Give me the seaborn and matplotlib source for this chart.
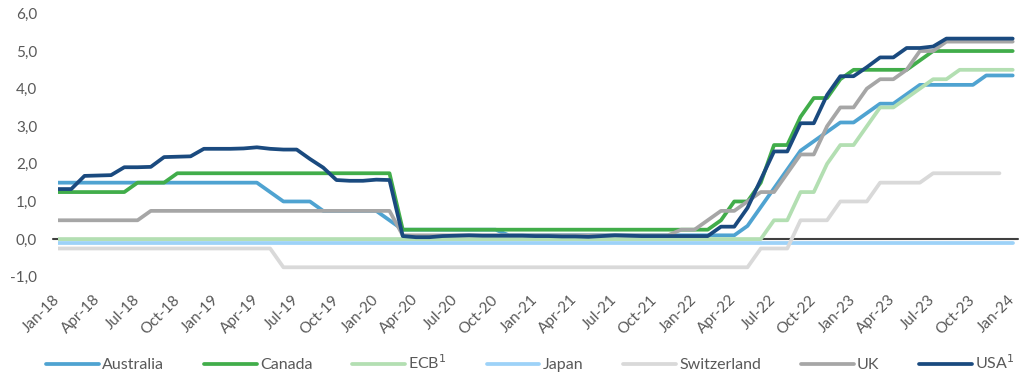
import pandas as pd
import seaborn as sns
import matplotlib.pyplot as plt

# monthly policy rates, Jan-18 .. Jan-24
australia = [1.5] * 16 + [1.25] + [1.0] * 3 + [0.75] * 5 + [0.5] + [0.25] * 8 + [0.1] * 18 + \
    [0.35, 0.85, 1.35, 1.85, 2.35, 2.6, 2.85, 3.1, 3.1, 3.35, 3.6, 3.6, 3.85] + [4.1] * 5 + [4.35] * 3
canada = [1.25] * 6 + [1.5] * 3 + [1.75] * 17 + [0.25] * 24 + \
    [0.5, 1.0, 1.0, 1.5, 2.5, 2.5, 3.25, 3.75, 3.75, 4.25] + [4.5] * 5 + [4.75] + [5.0] * 7
ecb = [0.0] * 54 + [0.5, 0.5, 1.25, 1.25, 2.0, 2.5, 2.5, 3.0, 3.5, 3.5, 3.75, 4.0, 4.25, 4.25] + [4.5] * 5
japan = [-0.1] * 73
switzerland = [-0.25] * 17 + [-0.75] * 36 + [-0.25] * 3 + [0.5] * 3 + [1.0] * 3 + [1.5] * 4 + [1.75] * 6
uk = [0.5] * 7 + [0.75] * 19 + [0.1] * 21 + \
    [0.25, 0.25, 0.5, 0.75, 0.75, 1.0, 1.25, 1.25, 1.75, 2.25, 2.25, 3.0, 3.5, 3.5, 4.0, 4.25, 4.25, 4.5, 5.0, 5.0] + [5.25] * 6
usa = [1.33, 1.33, 1.68, 1.69, 1.70, 1.91, 1.91, 1.92, 2.18, 2.19,
       2.20, 2.40, 2.40, 2.40, 2.41, 2.44, 2.40, 2.38, 2.38, 2.13,
       1.90, 1.57, 1.55, 1.55, 1.58, 1.57, 0.08, 0.05, 0.05, 0.08,
       0.09, 0.10, 0.09, 0.09, 0.09, 0.09, 0.08, 0.08, 0.07, 0.07,
       0.06, 0.08, 0.10, 0.09, 0.08, 0.08, 0.08, 0.08, 0.08, 0.08,
       0.33, 0.33, 0.83, 1.58, 2.33, 2.33, 3.08, 3.08, 3.83, 4.33,
       4.33, 4.57, 4.83, 4.83, 5.08, 5.08, 5.12, 5.33, 5.33, 5.33,
       5.33, 5.33, 5.33]

tick_labels = ["Jan-18", "Apr-18", "Jul-18", "Oct-18", "Jan-19", "Apr-19", "Jul-19", "Oct-19",
               "Jan-20", "Apr-20", "Jul-20", "Oct-20", "Jan-21", "Apr-21", "Jul-21", "Oct-21",
               "Jan-22", "Apr-22", "Jul-22", "Oct-22", "Jan-23", "Apr-23", "Jul-23", "Oct-23", "Jan-24"]

series = {
    "Australia": australia,
    "Canada": canada,
    "ECB$^1$": ecb,
    "Japan": japan,
    "Switzerland": switzerland,
    "UK": uk,
    "USA$^1$": usa,
}
colors = ["#4fa3d1", "#41ad4a", "#b3dfb2", "#9dd2f8", "#d9d9d9", "#a6a6a6", "#1a4a7f"]

rows = []
for name, vals in series.items():
    for i, v in enumerate(vals):
        rows.append({"month": i, "rate": v, "bank": name})
df = pd.DataFrame(rows)

sns.set_style("white")
plt.rcParams["font.family"] = ["Lato", "DejaVu Sans"]

fig = plt.figure(figsize=(10.2, 3.74), dpi=100)
ax = fig.add_axes([58 / 1020, 97.3 / 374, 960 / 1020, (360.6 - 97.3) / 374])

ax.axhline(0, xmin=-0.005, xmax=1, color="#404040", lw=1.5, clip_on=False, zorder=1)
sns.lineplot(data=df, x="month", y="rate", hue="bank", palette=colors,
             linewidth=2.7, errorbar=None, ax=ax, zorder=2)

ax.set_xlim(0, 72.4)
ax.set_ylim(-1, 6)
ax.set_yticks(range(-1, 7))
ax.set_yticklabels([f"{v},0" for v in range(-1, 7)])
ax.set_xticks(range(0, 73, 3))
ax.set_xticklabels(tick_labels, rotation=45, ha="right", va="center", rotation_mode="anchor")
ax.tick_params(axis="y", length=0, pad=15, labelsize=11, labelcolor="#595959")
ax.tick_params(axis="x", length=0, pad=15, labelsize=11, labelcolor="#595959")
ax.set_xlabel("")
ax.set_ylabel("")
sns.despine(left=True, bottom=True)

handles, labels = ax.get_legend_handles_labels()
ax.legend(handles, labels, loc="center", bbox_to_anchor=(0.52, 0.03), bbox_transform=fig.transFigure,
          ncol=7, frameon=False, fontsize=11.5, handlelength=3.3, handletextpad=0.2,
          columnspacing=2.5, labelcolor="#595959", borderpad=0.2)

fig.savefig("out.png", dpi=100)
